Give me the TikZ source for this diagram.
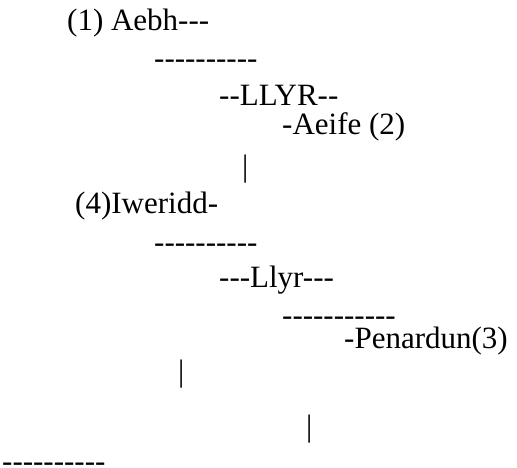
\documentclass[tikz,border=0pt]{standalone}
\usepackage{fontspec}
\setmainfont{Liberation Serif}[Ligatures=TeXOff]
\tikzset{rowtext/.style={anchor=base west, inner sep=0pt, font=\fontsize{31}{37}\selectfont}}
\begin{document}
\begin{tikzpicture}[x=1pt, y=-1pt]
\useasboundingbox (0,0) rectangle (517,468);
\foreach \nm / \x / \y / \txt in {aebh/67/31/{(1) Aebh---}, dashA/154/69/{----------},
	llyrA/219/106/{--LLYR--}, aeife/282/135/{-Aeife (2)}, barA/242/177/{|},
	iweridd/75/214/{(4)Iweridd-}, dashB/154/252/{----------}, llyrB/219/287/{---Llyr---},
	dashC/282/325/{-----------}, penardun/344/348/{-Penardun(3)},
	barB/178/381/{|}, barC/306/436/{|}, dashD/2/471/{----------}} {
	\node[rowtext] (\nm) at (\x,\y) {\txt};
}
\end{tikzpicture}
\end{document}
